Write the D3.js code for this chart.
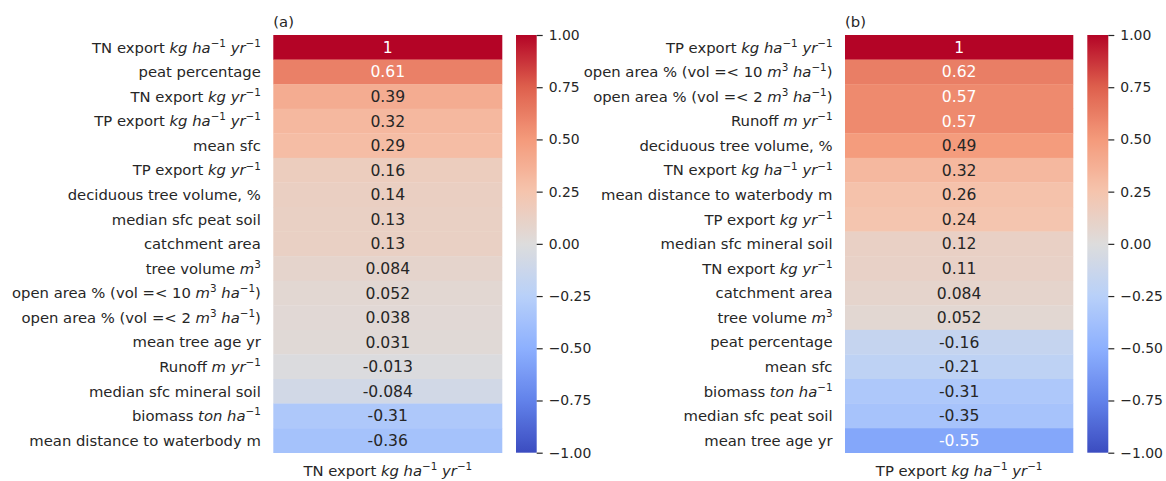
<!DOCTYPE html>
<html>
<head>
<meta charset="utf-8">
<script src="https://d3js.org/d3.v7.min.js"></script>
<style>
    body { margin: 0; background: #fff; }
    svg { display: block; font-family: "DejaVu Sans", sans-serif; }
    .cbar .domain { display: none; }
    .cbar line { stroke: #262626; stroke-width: 1.2; }
    .cbar text { fill: #262626; font-size: 13.9px; font-family: "DejaVu Sans", sans-serif; }
</style>
</head>
<body>
<svg width="1166" height="481" class="chart"></svg>
<script>
    // panel (a): correlations with TN export
    const labelsA = [
        'TN export $kg$ $ha^{-1}$ $yr^{-1}$',
        'peat percentage',
        'TN export $kg$ $yr^{-1}$',
        'TP export $kg$ $ha^{-1}$ $yr^{-1}$',
        'mean sfc',
        'TP export $kg$ $yr^{-1}$',
        'deciduous tree volume, %',
        'median sfc peat soil',
        'catchment area',
        'tree volume $m^3$',
        'open area % (vol =< 10 $m^3$ $ha^{-1}$)',
        'open area % (vol =< 2 $m^3$ $ha^{-1}$)',
        'mean tree age yr',
        'Runoff $m$ $yr^{-1}$',
        'median sfc mineral soil',
        'biomass $ton$ $ha^{-1}$',
        'mean distance to waterbody m',
    ];
    const valuesA = [1, 0.61, 0.39, 0.32, 0.29, 0.16, 0.14, 0.13, 0.13, 0.084,
        0.052, 0.038, 0.031, -0.013, -0.084, -0.31, -0.36];

    // panel (b): correlations with TP export
    const labelsB = [
        'TP export $kg$ $ha^{-1}$ $yr^{-1}$',
        'open area % (vol =< 10 $m^3$ $ha^{-1}$)',
        'open area % (vol =< 2 $m^3$ $ha^{-1}$)',
        'Runoff $m$ $yr^{-1}$',
        'deciduous tree volume, %',
        'TN export $kg$ $ha^{-1}$ $yr^{-1}$',
        'mean distance to waterbody m',
        'TP export $kg$ $yr^{-1}$',
        'median sfc mineral soil',
        'TN export $kg$ $yr^{-1}$',
        'catchment area',
        'tree volume $m^3$',
        'peat percentage',
        'mean sfc',
        'biomass $ton$ $ha^{-1}$',
        'median sfc peat soil',
        'mean tree age yr',
    ];
    const valuesB = [1, 0.62, 0.57, 0.57, 0.49, 0.32, 0.26, 0.24, 0.12, 0.11,
        0.084, 0.052, -0.16, -0.21, -0.31, -0.35, -0.55];

    const xLabelA = 'TN export $kg$ $ha^{-1}$ $yr^{-1}$';
    const xLabelB = 'TP export $kg$ $ha^{-1}$ $yr^{-1}$';
    const cbarTicks = [1, 0.75, 0.5, 0.25, 0, -0.25, -0.5, -0.75, -1];

    // coolwarm approximation
    const coolwarm = d3.scaleLinear()
        .domain(d3.range(9).map(i => -1 + i * 0.25))
        .range(['#3b4cc0', '#6282ea', '#8db0fe', '#b8d0f9', '#dddcdc',
            '#f5c4ad', '#f49a7b', '#de604d', '#b40426'])
        .interpolate(d3.interpolateRgb)
        .clamp(true);

    const annotFmt = d3.formatLocale({
        decimal: '.', thousands: ',', grouping: [3], currency: ['', ''], minus: '-',
    }).format('.2~g');

    const labelSize = 14.8, annotSize = 15.6, textColor = '#262626';
    const yTop = 35, yBottom = 452.7;

    const svg = d3.select('.chart');

    // tiny mathtext-like parser: $..$ segments get italic letters, ^{..} superscripts
    function parseLabel(s) {
        const runs = [];
        const push = (t, it, sup) => {
            const last = runs[runs.length - 1];
            if (last && last.it === it && last.sup === sup) last.t += t;
            else runs.push({ t, it, sup });
        };
        s.split('$').forEach((part, k) => {
            if (k % 2 === 0) { if (part) push(part, false, false); return; }
            for (let i = 0; i < part.length; i++) {
                let c = part[i];
                if (c === '^') {
                    let grp;
                    if (part[i + 1] === '{') {
                        const end = part.indexOf('}', i);
                        grp = part.slice(i + 2, end);
                        i = end;
                    } else { grp = part[i + 1]; i++; }
                    for (const g of grp) push(g === '-' ? '\u2212' : g, /[a-z]/i.test(g), true);
                } else {
                    push(c === '-' ? '\u2212' : c, /[a-z]/i.test(c), false);
                }
            }
        });
        return runs;
    }

    function richText(sel, str, size) {
        const runs = parseLabel(str);
        const shift = size * 0.4;
        let up = false;
        runs.forEach(r => {
            const ts = sel.append('tspan').text(r.t)
                .attr('font-style', r.it ? 'italic' : 'normal');
            if (r.sup) ts.attr('font-size', size * 0.7);
            if (r.sup && !up) { ts.attr('dy', -shift); up = true; }
            else if (!r.sup && up) { ts.attr('dy', shift); up = false; }
        });
    }

    // shared gradient for colorbars
    const grad = svg.append('defs').append('linearGradient')
        .attr('id', 'cw').attr('x1', 0).attr('y1', 1).attr('x2', 0).attr('y2', 0);
    d3.range(0, 1.0001, 1 / 64).forEach(t => {
        grad.append('stop').attr('offset', t).attr('stop-color', coolwarm(-1 + 2 * t));
    });

    function drawPanel(labels, values, xLabel, title, hx0, hx1, cx0, cx1) {
        const g = svg.append('g');
        const y = d3.scaleBand().domain(d3.range(values.length)).range([yTop, yBottom]);
        const cx = (hx0 + hx1) / 2;

        g.selectAll('rect.cell')
            .data(values)
            .enter()
            .append('rect')
            .attr('class', 'cell')
            .attr('x', hx0)
            .attr('y', (d, i) => y(i))
            .attr('width', hx1 - hx0)
            .attr('height', y.bandwidth() + 0.3)
            .attr('fill', d => coolwarm(d));

        g.selectAll('text.annot')
            .data(values)
            .enter()
            .append('text')
            .attr('class', 'annot')
            .attr('x', cx)
            .attr('y', (d, i) => y(i) + y.bandwidth() / 2)
            .attr('dy', '0.36em')
            .attr('text-anchor', 'middle')
            .attr('font-size', annotSize)
            .attr('fill', d => {
                const c = d3.rgb(coolwarm(d));
                const lin = v => { v /= 255; return v <= 0.03928 ? v / 12.92 : Math.pow((v + 0.055) / 1.055, 2.4); };
                const lum = 0.2126 * lin(c.r) + 0.7152 * lin(c.g) + 0.0722 * lin(c.b);
                return lum > 0.408 ? textColor : '#ffffff';
            })
            .text(d => annotFmt(d));

        g.selectAll('text.ylab')
            .data(labels)
            .enter()
            .append('text')
            .attr('class', 'ylab')
            .attr('x', hx0 - 12.5)
            .attr('y', (d, i) => y(i) + y.bandwidth() / 2)
            .attr('dy', '0.36em')
            .attr('text-anchor', 'end')
            .attr('font-size', labelSize)
            .attr('fill', textColor)
            .each(function (d) { richText(d3.select(this), d, labelSize); });

        g.append('text')
            .attr('x', cx)
            .attr('y', 476)
            .attr('text-anchor', 'middle')
            .attr('font-size', labelSize)
            .attr('fill', textColor)
            .call(s => richText(s, xLabel, labelSize));

        g.append('text')
            .attr('x', hx0)
            .attr('y', 27)
            .attr('font-size', labelSize)
            .attr('fill', textColor)
            .text(title);

        // colorbar
        const cy = d3.scaleLinear().domain([-1, 1]).range([yBottom, yTop]);
        g.append('rect')
            .attr('x', cx0)
            .attr('y', yTop)
            .attr('width', cx1 - cx0)
            .attr('height', yBottom - yTop)
            .attr('fill', 'url(#cw)');

        g.append('g')
            .attr('class', 'cbar')
            .attr('transform', 'translate(' + cx1 + ',0)')
            .call(d3.axisRight(cy).tickValues(cbarTicks).tickFormat(d3.format('.2f'))
                .tickSize(6).tickPadding(6));
    }

    drawPanel(labelsA, valuesA, xLabelA, '(a)', 273.3, 502.3, 516, 536.7);
    drawPanel(labelsB, valuesB, xLabelB, '(b)', 845, 1073.3, 1087.3, 1108.3);
</script>
</body>
</html>
